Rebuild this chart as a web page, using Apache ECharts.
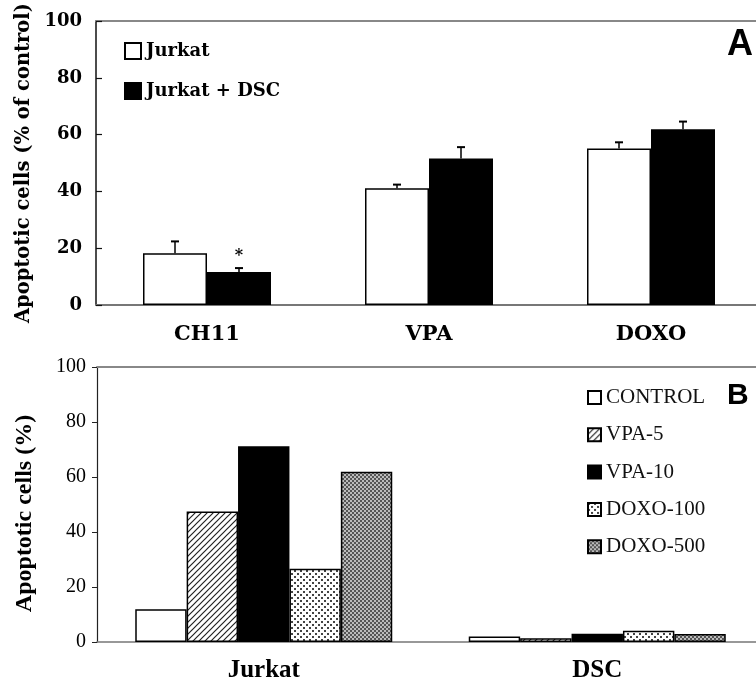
<!DOCTYPE html>
<html><head><meta charset="utf-8">
<script src="https://cdn.jsdelivr.net/npm/echarts@6/dist/echarts.min.js"></script>
<style>html,body{margin:0;padding:0;background:#fff;overflow:hidden}#c{width:780px;height:683px}</style>
</head><body><div id="c"></div>
<script>
// ---- Panel A data ----
const catsA = ['CH11', 'VPA', 'DOXO'];
const jurkat = [18.2, 41.1, 55.1];
const jurkatErr = [4.2, 1.3, 2.2];
const jurkatDSC = [11.6, 51.6, 61.9];
const jurkatDSCErr = [1.4, 4.0, 2.7];
const sigA = ['*', '', ''];
const ticksA = [0, 20, 40, 60, 80, 100];
// ---- Panel B data ----
const catsB = ['Jurkat', 'DSC'];
const control = [11.9, 2.0];
const vpa5 = [47.5, 1.4];
const vpa10 = [71.2, 3.0];
const doxo100 = [26.6, 4.1];
const doxo500 = [61.9, 2.9];

function makePattern(w, h, draw) {
  const c = document.createElement('canvas');
  c.width = w; c.height = h;
  const ctx = c.getContext('2d');
  draw(ctx, w, h);
  return { image: c, repeat: 'repeat' };
}
const hatch = makePattern(6, 6, (ctx, w, h) => {
  ctx.fillStyle = '#fff'; ctx.fillRect(0, 0, w, h);
  ctx.strokeStyle = '#222'; ctx.lineWidth = 1.2;
  ctx.beginPath();
  ctx.moveTo(0, 6); ctx.lineTo(6, 0);
  ctx.moveTo(-1, 1); ctx.lineTo(1, -1);
  ctx.moveTo(5, 7); ctx.lineTo(7, 5);
  ctx.stroke();
});
const dots = makePattern(6, 6, (ctx, w, h) => {
  ctx.fillStyle = '#fff'; ctx.fillRect(0, 0, w, h);
  ctx.fillStyle = '#444';
  ctx.fillRect(0, 0, 2, 2); ctx.fillRect(3, 3, 2, 2);
});
const dense = makePattern(4, 4, (ctx, w, h) => {
  ctx.fillStyle = '#bbb'; ctx.fillRect(0, 0, w, h);
  ctx.fillStyle = '#555';
  ctx.fillRect(0, 0, 2, 2); ctx.fillRect(2, 2, 2, 2);
});

const SERIF_A = 'DejaVu Serif';
const SERIF_B = 'Liberation Serif';
const BW_A = 64, BW_B = 51.4;
const border = { borderColor: '#000', borderWidth: 1.5 };

function errSeries(vals, errs, sign, sig) {
  return {
    type: 'custom', xAxisIndex: 0, yAxisIndex: 0, z: 5, silent: true,
    data: vals.map((v, i) => [i, v, errs[i]]),
    renderItem: function (params, api) {
      const ci = api.value(0), v = api.value(1), e = api.value(2);
      const base = api.coord([ci, v]);
      const top = api.coord([ci, v + e]);
      const x = base[0] + sign * BW_A / 2;
      const children = [
        { type: 'line', shape: { x1: x, y1: base[1], x2: x, y2: top[1] }, style: { stroke: '#000', lineWidth: 1.5 } },
        { type: 'line', shape: { x1: x - 4, y1: top[1], x2: x + 4, y2: top[1] }, style: { stroke: '#000', lineWidth: 2 } }
      ];
      if (sig && sig[ci]) {
        children.push({ type: 'text', style: { text: sig[ci], x: x, y: top[1] - 12, align: 'center', verticalAlign: 'middle', font: 'bold 16px ' + SERIF_A, fill: '#000' } });
      }
      return { type: 'group', children: children };
    }
  };
}

const chart = echarts.init(document.getElementById('c'), null, { renderer: 'canvas' });
chart.setOption({
  animation: false,
  backgroundColor: '#fff',
  title: [
    { text: 'A', left: 722, top: 22, textStyle: { fontFamily: 'Liberation Sans', fontWeight: 'bold', fontSize: 36, color: '#000' } },
    { text: 'B', left: 722, top: 376, textStyle: { fontFamily: 'Liberation Sans', fontWeight: 'bold', fontSize: 30, color: '#000' } }
  ],
  legend: [
    {
      data: ['Jurkat', 'Jurkat + DSC'], orient: 'vertical', left: 119, top: 37,
      itemWidth: 16, itemHeight: 16, itemGap: 22, icon: 'rect',
      textStyle: { fontFamily: SERIF_A, fontWeight: 'bold', fontSize: 18, color: '#000', lineHeight: 16 }
    },
    {
      data: ['CONTROL', 'VPA-5', 'VPA-10', 'DOXO-100', 'DOXO-500'], orient: 'vertical', left: 582, top: 382,
      itemWidth: 13, itemHeight: 13, itemGap: 16.3, icon: 'rect',
      textStyle: { fontFamily: SERIF_B, fontSize: 21, color: '#111', lineHeight: 13 }
    }
  ],
  grid: [
    { left: 96, top: 20, width: 666, height: 285 },
    { left: 97, top: 367, width: 667, height: 278 }
  ],
  xAxis: [
    { type: 'category', gridIndex: 0, data: catsA, axisTick: { show: false },
      axisLine: { lineStyle: { color: '#777', width: 2 } },
      axisLabel: { margin: 19, fontFamily: SERIF_A, fontWeight: 'bold', fontSize: 21, color: '#000' } },
    { type: 'category', gridIndex: 1, data: catsB, axisTick: { show: false },
      axisLine: { lineStyle: { color: '#777', width: 1.5 } },
      axisLabel: { margin: 16, fontFamily: SERIF_B, fontWeight: 'bold', fontSize: 25, color: '#000' } },
    { type: 'category', gridIndex: 0, position: 'top', data: catsA, axisTick: { show: false }, axisLabel: { show: false },
      axisLine: { lineStyle: { color: '#888', width: 2 } } },
    { type: 'category', gridIndex: 1, position: 'top', data: catsB, axisTick: { show: false }, axisLabel: { show: false },
      axisLine: { lineStyle: { color: '#888', width: 2 } } }
  ],
  yAxis: [
    { type: 'value', gridIndex: 0, min: ticksA[0], max: ticksA[ticksA.length - 1], interval: 20,
      name: 'Apoptotic cells (% of control)', nameLocation: 'middle', nameGap: 62,
      nameTextStyle: { fontFamily: SERIF_A, fontWeight: 'bold', fontSize: 19.5, color: '#000' },
      axisLine: { show: true, lineStyle: { color: '#111', width: 1.5 } },
      axisTick: { show: true, inside: true, length: 6, lineStyle: { color: '#111', width: 1.2 } },
      splitLine: { show: false },
      axisLabel: { margin: 14, fontFamily: SERIF_A, fontWeight: 'bold', fontSize: 18, color: '#000' } },
    { type: 'value', gridIndex: 1, min: 0, max: 100, interval: 20,
      name: 'Apoptotic cells (%)', nameLocation: 'middle', nameGap: 60,
      nameTextStyle: { fontFamily: SERIF_B, fontWeight: 'bold', fontSize: 24, color: '#000', padding: [0, 18, 0, 0] },
      axisLine: { show: true, lineStyle: { color: '#222', width: 1.2 } },
      axisTick: { show: true, length: 5, lineStyle: { color: '#222', width: 1 } },
      splitLine: { show: false },
      axisLabel: { margin: 11, fontFamily: SERIF_B, fontSize: 20, color: '#000' } }
  ],
  series: [
    { name: 'Jurkat', type: 'bar', xAxisIndex: 0, yAxisIndex: 0, data: jurkat, barWidth: BW_A, barGap: '0%',
      itemStyle: Object.assign({ color: '#fff' }, border) },
    { name: 'Jurkat + DSC', type: 'bar', xAxisIndex: 0, yAxisIndex: 0, data: jurkatDSC, barWidth: BW_A, barGap: '0%',
      itemStyle: Object.assign({ color: '#000' }, border) },
    errSeries(jurkat, jurkatErr, -1, null),
    errSeries(jurkatDSC, jurkatDSCErr, 1, sigA),
    { name: 'CONTROL', type: 'bar', xAxisIndex: 1, yAxisIndex: 1, data: control, barWidth: BW_B, barGap: '0%',
      itemStyle: Object.assign({ color: '#fff' }, border) },
    { name: 'VPA-5', type: 'bar', xAxisIndex: 1, yAxisIndex: 1, data: vpa5, barWidth: BW_B, barGap: '0%',
      itemStyle: Object.assign({ color: hatch }, border) },
    { name: 'VPA-10', type: 'bar', xAxisIndex: 1, yAxisIndex: 1, data: vpa10, barWidth: BW_B, barGap: '0%',
      itemStyle: Object.assign({ color: '#000' }, border) },
    { name: 'DOXO-100', type: 'bar', xAxisIndex: 1, yAxisIndex: 1, data: doxo100, barWidth: BW_B, barGap: '0%',
      itemStyle: Object.assign({ color: dots }, border) },
    { name: 'DOXO-500', type: 'bar', xAxisIndex: 1, yAxisIndex: 1, data: doxo500, barWidth: BW_B, barGap: '0%',
      itemStyle: Object.assign({ color: dense }, border) }
  ]
});
</script></body></html>
